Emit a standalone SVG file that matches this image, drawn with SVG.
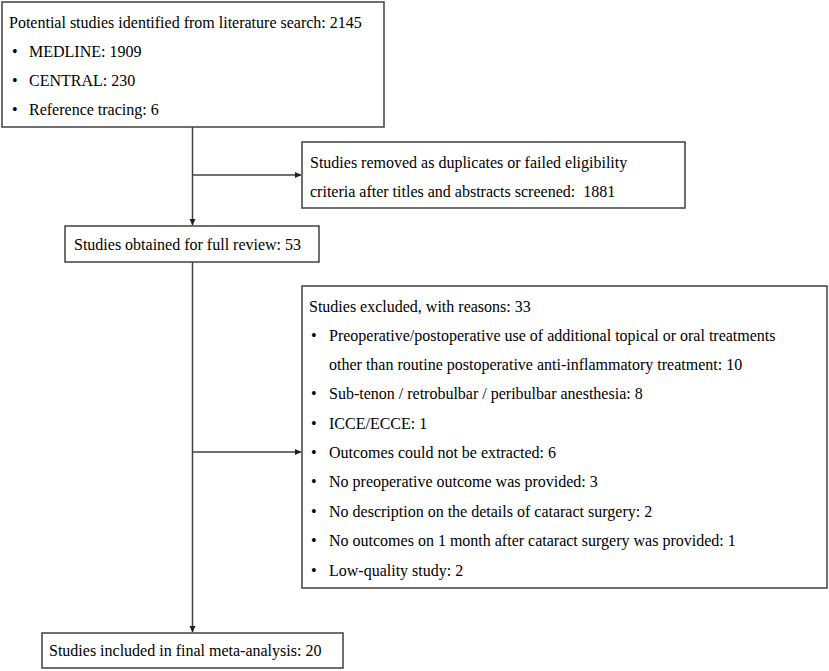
<svg xmlns="http://www.w3.org/2000/svg" width="829" height="671" viewBox="0 0 829 671">
<style>
.box{fill:#fff;stroke:#404040;stroke-width:1.5}
.t{font-family:"Liberation Serif","Times New Roman",serif;font-size:16px;fill:#000}
.ln{fill:none;stroke:#404040;stroke-width:1.5}
</style>
<defs>
<marker id="ah" markerWidth="7" markerHeight="7" refX="6" refY="3.5" orient="auto" markerUnits="userSpaceOnUse">
<path d="M0,0.5 L6.5,3.5 L0,6.5 Z" fill="#202020"/>
</marker>
</defs>
<rect width="829" height="671" fill="#fff"/>
<g id="connectors">
<path class="ln" d="M192.5,127 V225" marker-end="url(#ah)"/>
<path class="ln" d="M192.5,175 H301" marker-end="url(#ah)"/>
<path class="ln" d="M192.5,262 V632" marker-end="url(#ah)"/>
<path class="ln" d="M192.5,452 H301" marker-end="url(#ah)"/>
</g>
<g id="identified">
<rect class="box" x="2" y="2" width="382" height="125"/>
<text class="t" x="9" y="28">Potential studies identified from literature search: 2145</text>
<text class="t" x="12" y="57">•</text><text class="t" x="29" y="57">MEDLINE: 1909</text>
<text class="t" x="12" y="86">•</text><text class="t" x="29" y="86">CENTRAL: 230</text>
<text class="t" x="12" y="115">•</text><text class="t" x="29" y="115">Reference tracing: 6</text>
</g>
<g id="removed">
<rect class="box" x="302" y="142" width="383" height="66"/>
<text class="t" x="310" y="168">Studies removed as duplicates or failed eligibility</text>
<text class="t" x="310" y="197" xml:space="preserve">criteria after titles and abstracts screened:  1881</text>
</g>
<g id="fullreview">
<rect class="box" x="65" y="226" width="254" height="36"/>
<text class="t" x="74" y="250">Studies obtained for full review: 53</text>
</g>
<g id="excluded">
<rect class="box" x="302" y="286" width="525" height="302"/>
<text class="t" x="309" y="312">Studies excluded, with reasons: 33</text>
<text class="t" x="311" y="341">•</text><text class="t" x="329" y="341">Preoperative/postoperative use of additional topical or oral treatments</text>
<text class="t" x="329" y="370">other than routine postoperative anti-inflammatory treatment: 10</text>
<text class="t" x="311" y="399">•</text><text class="t" x="329" y="399">Sub-tenon / retrobulbar / peribulbar anesthesia: 8</text>
<text class="t" x="311" y="429">•</text><text class="t" x="329" y="429">ICCE/ECCE: 1</text>
<text class="t" x="311" y="458">•</text><text class="t" x="329" y="458">Outcomes could not be extracted: 6</text>
<text class="t" x="311" y="487">•</text><text class="t" x="329" y="487">No preoperative outcome was provided: 3</text>
<text class="t" x="311" y="517">•</text><text class="t" x="329" y="517">No description on the details of cataract surgery: 2</text>
<text class="t" x="311" y="546">•</text><text class="t" x="329" y="546">No outcomes on 1 month after cataract surgery was provided: 1</text>
<text class="t" x="311" y="576">•</text><text class="t" x="329" y="576">Low-quality study: 2</text>
</g>
<g id="included">
<rect class="box" x="42" y="633" width="301" height="35"/>
<text class="t" x="49" y="656">Studies included in final meta-analysis: 20</text>
</g>
</svg>
